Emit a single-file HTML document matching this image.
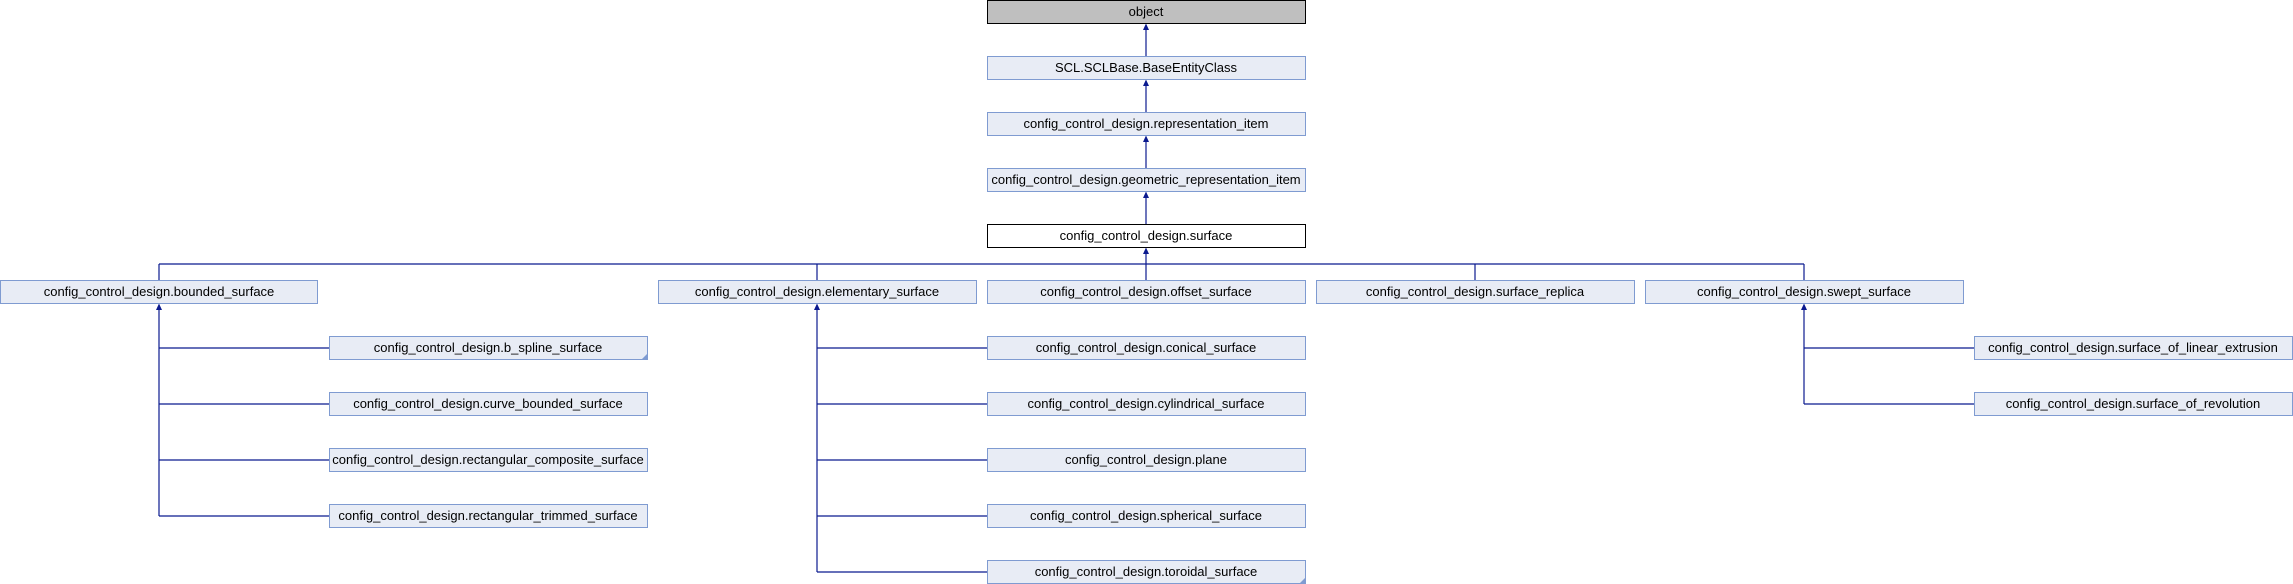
<!DOCTYPE html>
<html><head><meta charset="utf-8"><style>
html,body{margin:0;padding:0;background:#fff;}
svg{display:block;}
text{font-family:"Liberation Sans",Arial,sans-serif;font-size:13px;fill:#000;text-anchor:middle;}
.n{fill:#e8ecf5;stroke:#7f9bd1;stroke-width:1;}
.l{stroke:#0b1a8f;stroke-width:1.2;fill:none;}
.a{fill:#0b1a8f;}
</style></head><body>
<svg width="2293" height="584" viewBox="0 0 2293 584" xmlns="http://www.w3.org/2000/svg">
<line class="l" x1="1146" y1="29" x2="1146" y2="56"/>
<line class="l" x1="1146" y1="85" x2="1146" y2="112"/>
<line class="l" x1="1146" y1="141" x2="1146" y2="168"/>
<line class="l" x1="1146" y1="197" x2="1146" y2="224"/>
<line class="l" x1="1146" y1="253" x2="1146" y2="280"/>
<polygon class="a" points="1146,23.5 1143,30 1149,30"/>
<polygon class="a" points="1146,79.5 1143,86 1149,86"/>
<polygon class="a" points="1146,135.5 1143,142 1149,142"/>
<polygon class="a" points="1146,191.5 1143,198 1149,198"/>
<polygon class="a" points="1146,247.5 1143,254 1149,254"/>
<line class="l" x1="159" y1="264" x2="1804" y2="264"/>
<line class="l" x1="159" y1="264" x2="159" y2="280"/>
<line class="l" x1="817" y1="264" x2="817" y2="280"/>
<line class="l" x1="1475" y1="264" x2="1475" y2="280"/>
<line class="l" x1="1804" y1="264" x2="1804" y2="280"/>
<line class="l" x1="159" y1="309" x2="159" y2="516"/>
<polygon class="a" points="159,303.5 156,310 162,310"/>
<line class="l" x1="159" y1="348" x2="329" y2="348"/>
<line class="l" x1="159" y1="404" x2="329" y2="404"/>
<line class="l" x1="159" y1="460" x2="329" y2="460"/>
<line class="l" x1="159" y1="516" x2="329" y2="516"/>
<line class="l" x1="817" y1="309" x2="817" y2="572"/>
<polygon class="a" points="817,303.5 814,310 820,310"/>
<line class="l" x1="817" y1="348" x2="987" y2="348"/>
<line class="l" x1="817" y1="404" x2="987" y2="404"/>
<line class="l" x1="817" y1="460" x2="987" y2="460"/>
<line class="l" x1="817" y1="516" x2="987" y2="516"/>
<line class="l" x1="817" y1="572" x2="987" y2="572"/>
<line class="l" x1="1804" y1="309" x2="1804" y2="404"/>
<polygon class="a" points="1804,303.5 1801,310 1807,310"/>
<line class="l" x1="1804" y1="348" x2="1974" y2="348"/>
<line class="l" x1="1804" y1="404" x2="1974" y2="404"/>

<rect x="987.5" y="0.5" width="318" height="23" fill="#bfbfbf" stroke="#000"/>
<text x="1146" y="16">object</text>
<rect class="n" x="987.5" y="56.5" width="318" height="23"/>
<text x="1146" y="72">SCL.SCLBase.BaseEntityClass</text>
<rect class="n" x="987.5" y="112.5" width="318" height="23"/>
<text x="1146" y="128">config_control_design.representation_item</text>
<rect class="n" x="987.5" y="168.5" width="318" height="23"/>
<text x="1146" y="184">config_control_design.geometric_representation_item</text>
<rect x="987.5" y="224.5" width="318" height="23" fill="#fff" stroke="#000"/>
<text x="1146" y="240">config_control_design.surface</text>

<rect class="n" x="0.5" y="280.5" width="317" height="23"/>
<text x="159" y="296">config_control_design.bounded_surface</text>
<rect class="n" x="658.5" y="280.5" width="318" height="23"/>
<text x="817" y="296">config_control_design.elementary_surface</text>
<rect class="n" x="987.5" y="280.5" width="318" height="23"/>
<text x="1146" y="296">config_control_design.offset_surface</text>
<rect class="n" x="1316.5" y="280.5" width="318" height="23"/>
<text x="1475" y="296">config_control_design.surface_replica</text>
<rect class="n" x="1645.5" y="280.5" width="318" height="23"/>
<text x="1804" y="296">config_control_design.swept_surface</text>

<rect class="n" x="329.5" y="336.5" width="318" height="23"/>
<polygon points="647,354 647,359 642,359" fill="#7f9bd1"/>
<text x="488" y="352">config_control_design.b_spline_surface</text>
<rect class="n" x="329.5" y="392.5" width="318" height="23"/>
<text x="488" y="408">config_control_design.curve_bounded_surface</text>
<rect class="n" x="329.5" y="448.5" width="318" height="23"/>
<text x="488" y="464">config_control_design.rectangular_composite_surface</text>
<rect class="n" x="329.5" y="504.5" width="318" height="23"/>
<text x="488" y="520">config_control_design.rectangular_trimmed_surface</text>

<rect class="n" x="987.5" y="336.5" width="318" height="23"/>
<text x="1146" y="352">config_control_design.conical_surface</text>
<rect class="n" x="987.5" y="392.5" width="318" height="23"/>
<text x="1146" y="408">config_control_design.cylindrical_surface</text>
<rect class="n" x="987.5" y="448.5" width="318" height="23"/>
<text x="1146" y="464">config_control_design.plane</text>
<rect class="n" x="987.5" y="504.5" width="318" height="23"/>
<text x="1146" y="520">config_control_design.spherical_surface</text>
<rect class="n" x="987.5" y="560.5" width="318" height="23"/>
<polygon points="1305,578 1305,583 1300,583" fill="#7f9bd1"/>
<text x="1146" y="576">config_control_design.toroidal_surface</text>

<rect class="n" x="1974.5" y="336.5" width="318" height="23"/>
<text x="2133" y="352">config_control_design.surface_of_linear_extrusion</text>
<rect class="n" x="1974.5" y="392.5" width="318" height="23"/>
<text x="2133" y="408">config_control_design.surface_of_revolution</text>
</svg>
</body></html>
